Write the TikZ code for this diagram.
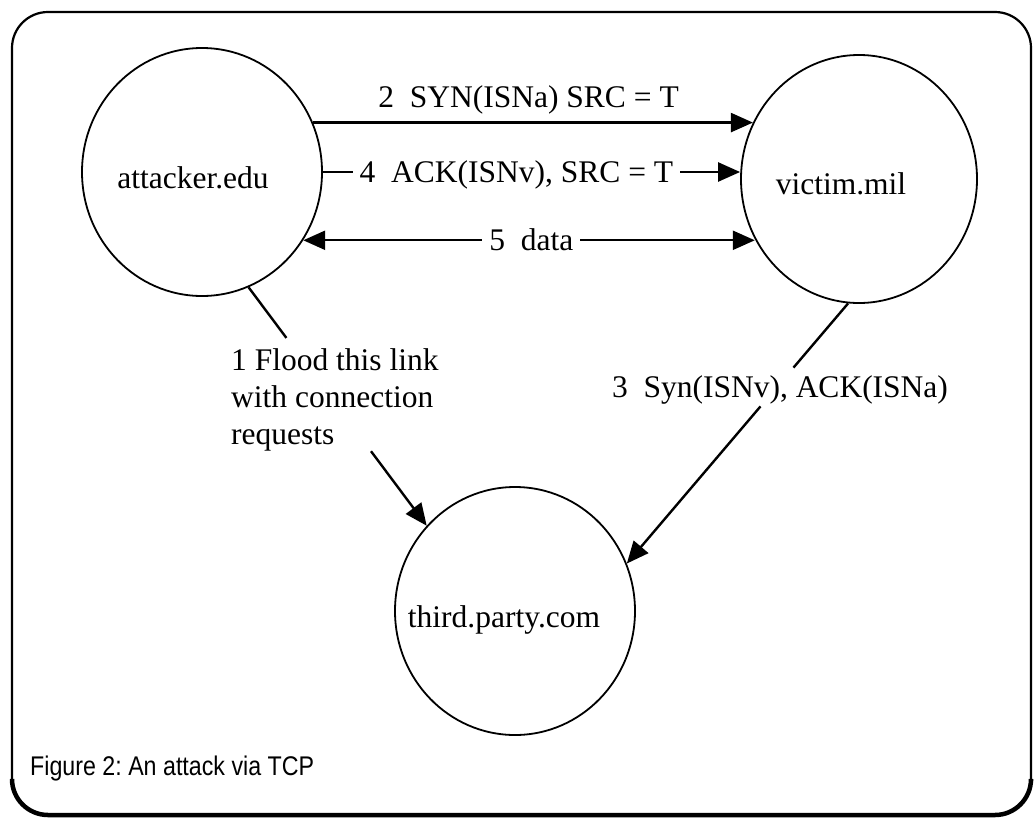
\documentclass[tikz,border=0pt]{standalone}
\usepackage{fontspec}
\setmainfont{Liberation Serif}
\newfontfamily\capfont[FakeStretch=0.86]{Liberation Sans}
\usetikzlibrary{arrows.meta,calc,shapes.geometric}
\begin{document}
\begin{tikzpicture}[x=1pt,y=-1pt,
  every node/.style={font=\fontsize{31.5}{37}\selectfont},
  host/.style={ellipse,draw,line width=1.8pt,minimum width=240pt,minimum height=248pt,inner sep=0pt},
  hosttext/.style={inner sep=0pt},
  conn/.style={line width=2.4pt},
  tip/.style={-{Triangle[length=22pt,width=19pt]}},
  tips/.style={{Triangle[length=22pt,width=19pt]}-{Triangle[length=22pt,width=19pt]}},
  lbl/.style={fill=white,inner xsep=7pt,inner ysep=2pt},
  frame/.style={line width=2.2pt,rounded corners=36pt}
]
\useasboundingbox (0,0) rectangle (1034,825);
\draw[frame] (12,12) rectangle (1031,815);
\draw[line width=4.5pt,rounded corners=36pt,line cap=round] (12,781) -- (12,815) -- (1031,815) -- (1031,781);

\node[host] (attacker) at (202,172) {};
\node[host,minimum width=236pt] (victim) at (859,179) {};
\node[host] (third) at (515,611) {};
\node[hosttext] (attackertext) at (193,178) {attacker.edu};
\node[hosttext] (victimtext) at (841,184) {victim.mil};
\node[hosttext] (thirdtext) at (504,620) {third.party.com};

% 2
\draw[conn,tip] (attacker.24.4) -- (attacker.24.4 -| victim.152.2)
  node[pos=0.49,yshift=22.5pt] (l2) {2~~SYN(ISNa) SRC = T};
% 4
\draw[conn,tip] (attacker.east) -- (attacker.east -| victim.west)
  node[lbl,pos=0.464,yshift=-3pt] (l4) {4~~ACK(ISNv), SRC = T};
% 5
\draw[conn,tips] (attacker.-34.7) -- (attacker.-34.7 -| victim.-150.4)
  node[lbl,pos=0.505,yshift=1pt] (l5) {5~~data};
% 3
\coordinate (s3a) at ($(victim.-95)!0.247!(third.23)$);
\coordinate (s3b) at ($(victim.-95)!0.396!(third.23)$);
\draw[conn] (victim.-95) -- (s3a);
\draw[conn,tip] (s3b) -- (third.23);
\node (l3) at (780,390) {3~~Syn(ISNv), ACK(ISNa)};
% 1
\coordinate (f1a) at ($(attacker.-68)!0.2125!(third.136)$);
\coordinate (f1b) at ($(attacker.-68)!0.6875!(third.136)$);
\draw[conn] (attacker.-68) -- (f1a);
\draw[conn,tip] (f1b) -- (third.136);
\node[align=left,anchor=north west,inner sep=0pt] (l1) at (231,348) {1 Flood this link\\with connection\\requests};

\node[anchor=base west,inner sep=0pt,font=\capfont\fontsize{27}{32}\selectfont\frenchspacing] (cap) at (30,775) {Figure 2: An attack via TCP};
\end{tikzpicture}
\end{document}
